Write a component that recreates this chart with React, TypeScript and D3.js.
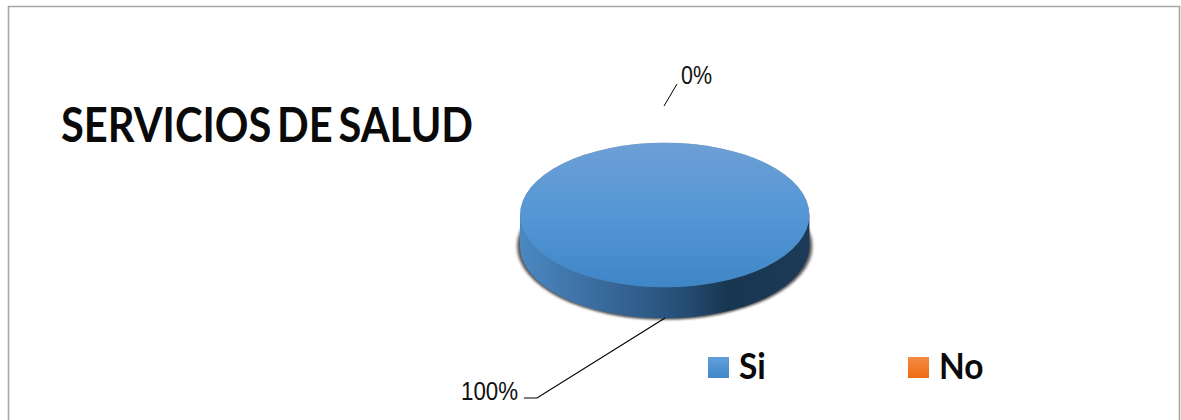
import * as React from 'react'
import * as d3 from 'd3'

const categories = ['Si', 'No']
const values = [100, 0]
const titleText = 'SERVICIOS DE SALUD'

const width = 1181
const height = 420

const App = () => {
    const total = d3.sum(values)
    const pct = d3.format('.0%')

    // pie is a circle squashed to half height, wall is the same circle moved down
    const cx = 664.7
    const cy = 215
    const radius = 144.7
    const squash = 0.5
    const depth = 31

    const pie = d3.pie<number>().sort(null)
    const arcs = pie(values)
    const arc = d3.arc<d3.PieArcDatum<number>>().innerRadius(0).outerRadius(radius)
    const disc = arcs[0]
    const fullCircle = arc({...disc, startAngle: 0, endAngle: 2 * Math.PI}) as string

    const legendX = d3.scalePoint().domain(categories).range([708, 908])
    const legendFill = d3.scaleOrdinal<string>().domain(categories).range(['url(#legendBlue)', 'url(#legendOrange)'])

    return (
        <svg width={width} height={height} style={{position: 'absolute', left: 0, top: 0, background: '#fff'}}>
            <defs>
                <linearGradient id="topFill" x1="0" y1="0" x2="0" y2="1">
                    <stop offset="0" stopColor="#6d9fd5" />
                    <stop offset="0.5" stopColor="#5496d6" />
                    <stop offset="1" stopColor="#3f86c6" />
                </linearGradient>
                <linearGradient id="wallFill" x1="0" y1="0" x2="1" y2="0">
                    <stop offset="0" stopColor="#4a88c2" />
                    <stop offset="0.3" stopColor="#38699a" />
                    <stop offset="0.55" stopColor="#264f78" />
                    <stop offset="0.72" stopColor="#183650" />
                    <stop offset="1" stopColor="#1d3b58" />
                </linearGradient>
                <linearGradient id="legendBlue" x1="0" y1="0" x2="0" y2="1">
                    <stop offset="0" stopColor="#62a0db" />
                    <stop offset="1" stopColor="#3f86c8" />
                </linearGradient>
                <linearGradient id="legendOrange" x1="0" y1="0" x2="0" y2="1">
                    <stop offset="0" stopColor="#f58a42" />
                    <stop offset="1" stopColor="#ee6d15" />
                </linearGradient>
                <filter id="soft" x="-10%" y="-20%" width="120%" height="140%">
                    <feGaussianBlur stdDeviation="1.6" />
                </filter>
                <filter id="rim" x="-5%" y="-10%" width="110%" height="120%">
                    <feGaussianBlur stdDeviation="0.7" />
                </filter>
            </defs>

            <path d={`M8.5,420V6.5H1179.5V420`} fill="none" stroke="#a6a6a6" strokeWidth={1.6} />

            <text x={61} y={142} fontFamily="Lato" fontWeight={700} fontSize={47} fill="#0a0a0a" wordSpacing={-5}
                textLength={412} lengthAdjust="spacingAndGlyphs">{titleText}</text>

            {/* soft shadow under the pie */}
            <g transform={`translate(${cx},${cy + depth}) scale(1.02,${squash * 1.02})`} filter="url(#soft)">
                <path d={fullCircle} fill="#555" />
            </g>

            {/* wall */}
            <rect x={cx - radius} y={cy} width={radius * 2} height={depth} fill="url(#wallFill)" />
            <g transform={`translate(${cx},${cy + depth}) scale(1,${squash})`}>
                <path d={fullCircle} fill="url(#wallFill)" />
            </g>

            {/* top face */}
            <g transform={`translate(${cx},${cy}) scale(1,${squash})`}>
                <path d={fullCircle} fill="#666" opacity={0.5} filter="url(#rim)" />
                {arcs.map((d, i) => (
                    <path key={categories[i]} d={arc(d) as string} fill="url(#topFill)" />
                ))}
            </g>

            {/* leader lines */}
            <polyline points="664,106 677,84" fill="none" stroke="#000" strokeWidth={1} />
            <polyline points="524,398 537,398 665,318" fill="none" stroke="#000" strokeWidth={1.2} />

            <text x={681} y={84} fontFamily="Liberation Sans" fontSize={25} fill="#111"
                textLength={31} lengthAdjust="spacingAndGlyphs">{pct(values[1] / total)}</text>
            <text x={461} y={400} fontFamily="Liberation Sans" fontSize={25} fill="#111"
                textLength={57} lengthAdjust="spacingAndGlyphs">{pct(values[0] / total)}</text>

            {categories.map((c) => (
                <g key={c} transform={`translate(${legendX(c)},0)`}>
                    <rect x={0} y={357} width={21} height={21} fill={legendFill(c)} />
                    <text transform="translate(31,379) scale(0.93,1)" fontFamily="Lato" fontWeight={700} fontSize={36} fill="#0a0a0a">{c}</text>
                </g>
            ))}
        </svg>
    )
}

export default App
